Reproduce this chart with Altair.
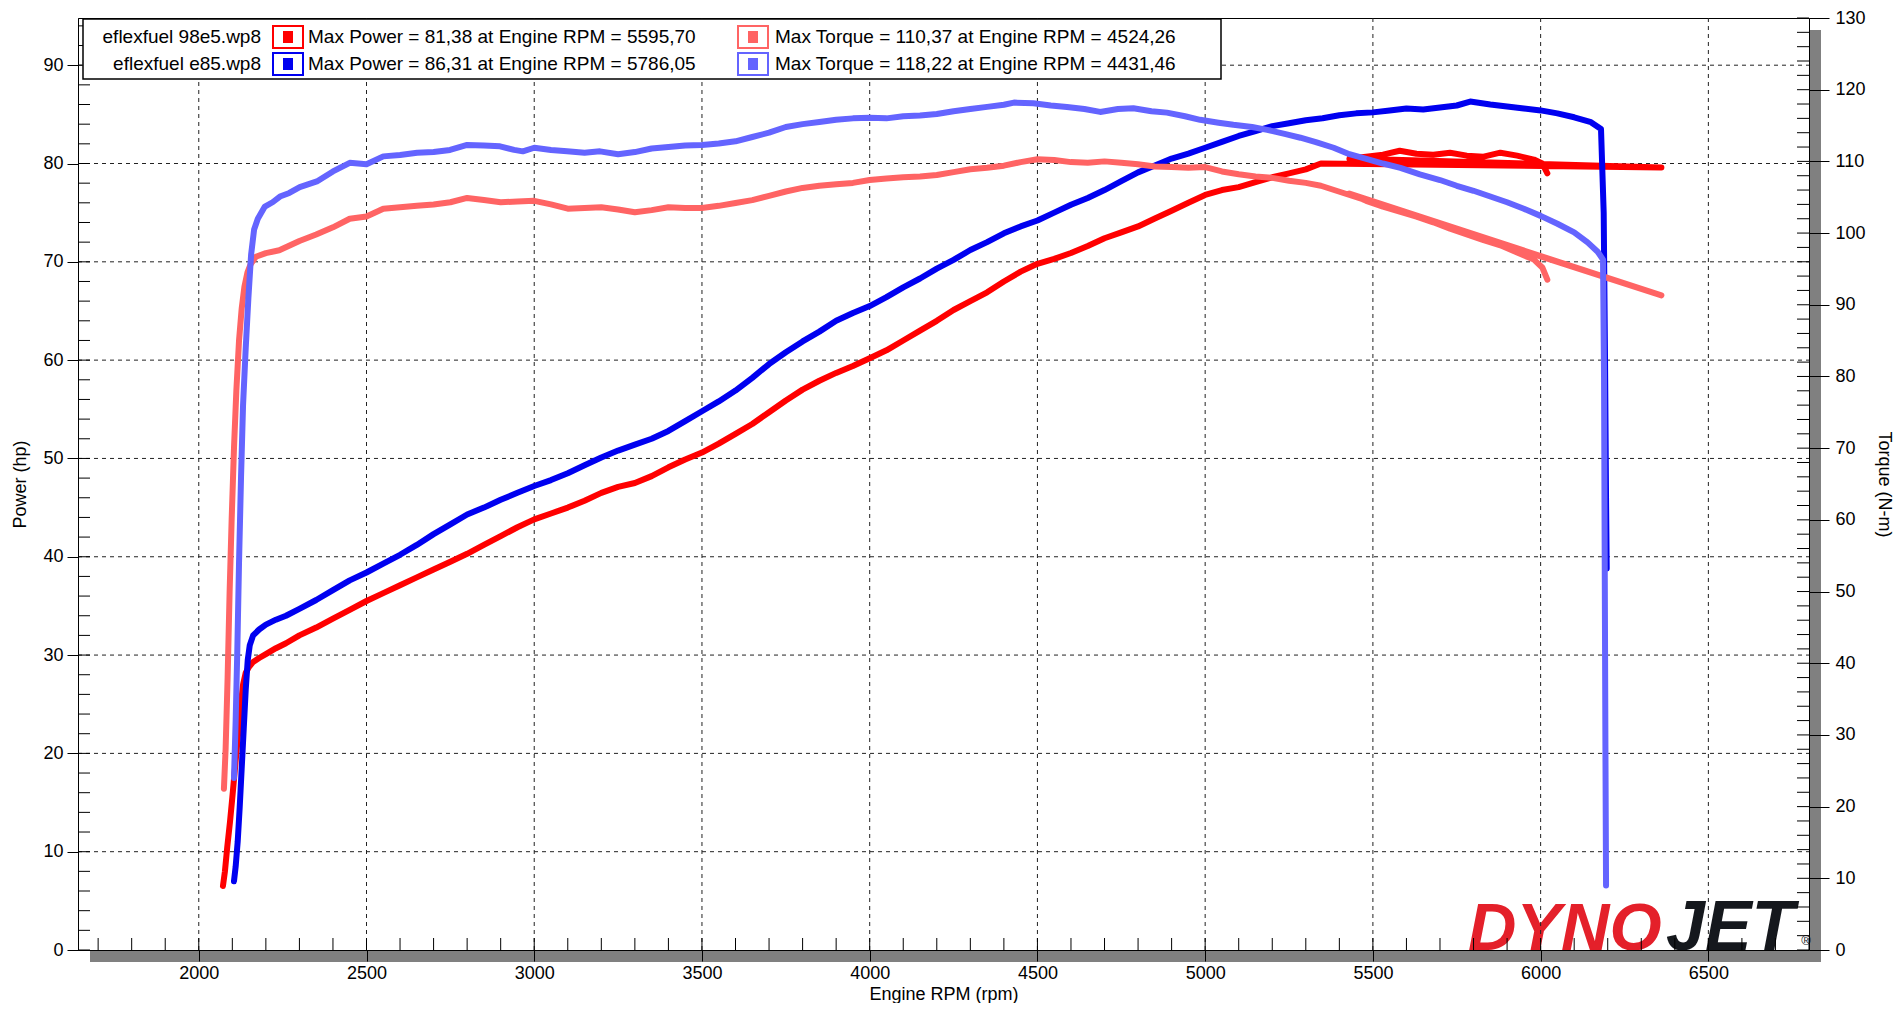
import altair as alt
import pandas as pd

# ---------------- data ----------------
rpm_98e5_power = [2072, 2078, 2085, 2093, 2100, 2108, 2116, 2124, 2132, 2140, 2150, 2162, 2180, 2200, 2230, 2260,
                  2300, 2350, 2400, 2450, 2500, 2550, 2600, 2650, 2700, 2750, 2800, 2850, 2900, 2950, 3000, 3050,
                  3100, 3150, 3200, 3250, 3300, 3350, 3400, 3450, 3500, 3550, 3600, 3650, 3700, 3750, 3800, 3850,
                  3900, 3950, 4000, 4050, 4100, 4150, 4200, 4250, 4300, 4350, 4400, 4450, 4500, 4550, 4600, 4650,
                  4700, 4750, 4800, 4850, 4900, 4950, 5000, 5050, 5100, 5150, 5200, 5250, 5300, 5345, 6360, 5430,
                  5480, 5530, 5580, 5630, 5680, 5730, 5780, 5830, 5880, 5930, 5980, 6005, 6020]
hp_98e5 = [6.5, 8.0, 10.5, 13.0, 15.5, 18.5, 21.5, 24.5, 27.0, 28.2, 28.8, 29.3, 29.7, 30.1, 30.7, 31.2,
           32.0, 32.8, 33.7, 34.6, 35.5, 36.3, 37.1, 37.9, 38.7, 39.5, 40.3, 41.2, 42.1, 43.0, 43.8, 44.4,
           45.0, 45.7, 46.5, 47.1, 47.5, 48.2, 49.1, 49.9, 50.6, 51.5, 52.5, 53.5, 54.7, 55.9, 57.0, 57.9,
           58.7, 59.4, 60.2, 61.0, 62.0, 63.0, 64.0, 65.1, 66.0, 66.9, 68.0, 69.0, 69.8, 70.3, 70.9, 71.6,
           72.4, 73.0, 73.6, 74.4, 75.2, 76.0, 76.8, 77.3, 77.6, 78.1, 78.6, 79.0, 79.4, 80.0, 79.6, 80.5,
           80.7, 80.9, 81.3, 81.0, 80.9, 81.1, 80.8, 80.7, 81.1, 80.8, 80.4, 80.0, 79.0]

rpm_e85_power = [2105, 2110, 2116, 2122, 2128, 2134, 2140, 2146, 2152, 2162, 2180, 2200, 2230, 2260, 2300, 2350,
                 2400, 2450, 2500, 2550, 2600, 2650, 2700, 2750, 2800, 2850, 2900, 2950, 3000, 3050, 3100, 3150,
                 3200, 3250, 3300, 3350, 3400, 3450, 3500, 3550, 3600, 3650, 3700, 3750, 3800, 3850, 3900, 3950,
                 4000, 4050, 4100, 4150, 4200, 4250, 4300, 4350, 4400, 4450, 4500, 4550, 4600, 4650, 4700, 4750,
                 4800, 4850, 4900, 4950, 5000, 5050, 5100, 5150, 5200, 5250, 5300, 5350, 5400, 5450, 5500, 5550,
                 5600, 5650, 5700, 5750, 5790, 5850, 5900, 5950, 6000, 6050, 6100, 6150, 6180, 6188, 6192, 6195,
                 6197]
hp_e85 = [7.0, 8.5, 11.0, 14.5, 18.5, 22.5, 26.5, 29.5, 31.0, 32.0, 32.6, 33.1, 33.6, 34.0, 34.7, 35.6,
          36.6, 37.6, 38.4, 39.3, 40.2, 41.2, 42.3, 43.3, 44.3, 45.0, 45.8, 46.5, 47.2, 47.8, 48.5, 49.3,
          50.1, 50.8, 51.4, 52.0, 52.8, 53.8, 54.8, 55.8, 56.9, 58.2, 59.6, 60.8, 61.9, 62.9, 64.0, 64.8,
          65.5, 66.4, 67.4, 68.3, 69.3, 70.2, 71.2, 72.0, 72.9, 73.6, 74.2, 75.0, 75.8, 76.5, 77.3, 78.2,
          79.1, 79.8, 80.5, 81.0, 81.6, 82.2, 82.8, 83.3, 83.8, 84.1, 84.4, 84.6, 84.9, 85.1, 85.2, 85.4,
          85.6, 85.5, 85.7, 85.9, 86.3, 86.0, 85.8, 85.6, 85.4, 85.1, 84.7, 84.2, 83.5, 75.0, 60.0, 46.0,
          38.8]

rpm_98e5_torque = [2075, 2080, 2086, 2092, 2098, 2105, 2112, 2120, 2128, 2136, 2145, 2155, 2170, 2200, 2240, 2300,
                   2350, 2400, 2450, 2500, 2550, 2600, 2650, 2700, 2750, 2800, 2850, 2900, 2950, 3000, 3050, 3100,
                   3150, 3200, 3250, 3300, 3350, 3400, 3450, 3500, 3550, 3600, 3650, 3700, 3750, 3800, 3850, 3900,
                   3950, 4000, 4050, 4100, 4150, 4200, 4250, 4300, 4350, 4400, 4450, 4500, 4550, 4600, 4650, 4700,
                   4750, 4800, 4850, 4900, 4950, 5000, 5050, 5100, 5150, 5200, 5250, 5300, 5345, 6360, 5430, 5480,
                   5530, 5580, 5630, 5680, 5730, 5780, 5830, 5880, 5930, 5980, 6005, 6020]
nm_98e5 = [22.5, 28, 38, 50, 60, 70, 78, 85, 89.5, 92.5, 94.5, 95.7, 96.7, 97.2, 97.6, 98.9,
           99.8, 100.8, 102.0, 102.3, 103.4, 103.6, 103.8, 104.0, 104.3, 104.9, 104.6, 104.3, 104.4, 104.5, 104.0, 103.4,
           103.5, 103.6, 103.3, 102.9, 103.2, 103.6, 103.5, 103.5, 103.8, 104.2, 104.6, 105.2, 105.8, 106.3, 106.6, 106.8,
           107.0, 107.4, 107.6, 107.8, 107.9, 108.1, 108.5, 108.9, 109.1, 109.4, 109.9, 110.3, 110.2, 109.9, 109.8, 110.0,
           109.8, 109.6, 109.3, 109.2, 109.1, 109.2, 108.6, 108.2, 107.9, 107.7, 107.3, 107.0, 106.6, 91.3, 105.5, 104.5,
           103.7, 103.0, 102.3, 101.5, 100.6, 99.8, 99.0, 98.3, 97.3, 96.3, 95.2, 93.5]

rpm_e85_torque = [2105, 2110, 2115, 2120, 2126, 2132, 2140, 2148, 2156, 2165, 2176, 2197, 2220, 2242, 2270, 2301,
                  2352, 2400, 2450, 2500, 2550, 2600, 2651, 2700, 2749, 2800, 2850, 2898, 2940, 2966, 3000, 3050,
                  3098, 3150, 3196, 3250, 3300, 3350, 3400, 3450, 3500, 3550, 3600, 3650, 3700, 3750, 3800, 3850,
                  3900, 3950, 4000, 4050, 4100, 4150, 4200, 4250, 4300, 4350, 4400, 4430, 4488, 4540, 4588, 4640,
                  4687, 4740, 4786, 4840, 4886, 4940, 4985, 5040, 5084, 5140, 5185, 5240, 5284, 5330, 5383, 5430,
                  5483, 5530, 5582, 5640, 5700, 5750, 5800, 5850, 5900, 5950, 6000, 6050, 6100, 6140, 6170, 6186,
                  6189, 6191, 6193, 6195]
nm_e85 = [24, 32, 42, 54, 66, 76, 84, 91, 97, 100.5, 102, 103.7, 104.3, 105.1, 105.6, 106.4,
          107.2, 108.6, 109.8, 109.6, 110.7, 110.9, 111.2, 111.3, 111.6, 112.3, 112.2, 112.1, 111.6, 111.4, 111.9, 111.6,
          111.4, 111.2, 111.4, 111.0, 111.3, 111.8, 112.0, 112.2, 112.3, 112.5, 112.8, 113.4, 114.0, 114.8, 115.2, 115.5,
          115.8, 116.0, 116.1, 116.0, 116.3, 116.4, 116.6, 117.0, 117.3, 117.6, 117.9, 118.2, 118.1, 117.8, 117.6, 117.3,
          116.9, 117.3, 117.4, 117.0, 116.8, 116.3, 115.8, 115.4, 115.1, 114.8, 114.4, 113.8, 113.3, 112.7, 111.9, 111.0,
          110.3, 109.7, 109.1, 108.2, 107.4, 106.6, 105.9, 105.1, 104.3, 103.4, 102.4, 101.3, 100.1, 98.7, 97.4, 96.3,
          80, 55, 30, 9]

x_major = [2000, 2500, 3000, 3500, 4000, 4500, 5000, 5500, 6000, 6500]
x_minor = list(range(1700, 6801, 100))
power_major = [0, 10, 20, 30, 40, 50, 60, 70, 80, 90]
power_minor = list(range(0, 95, 2))
torque_major = [0, 10, 20, 30, 40, 50, 60, 70, 80, 90, 100, 110, 120, 130]
torque_minor = list(range(0, 131, 2))

legend_files = ["eflexfuel 98e5.wp8", "eflexfuel e85.wp8"]
legend_power = ["Max Power = 81,38 at Engine RPM = 5595,70", "Max Power = 86,31 at Engine RPM = 5786,05"]
legend_torque = ["Max Torque = 110,37 at Engine RPM = 4524,26", "Max Torque = 118,22 at Engine RPM = 4431,46"]
power_colors = ["#FF0000", "#0000F0"]
torque_colors = ["#FF6464", "#6464FF"]
logo_words = ["DYNO", "JET"]
logo_colors = ["#E4202A", "#15181D"]

# ---------------- chart ----------------
W, H = 1731, 932
FONT = "Liberation Sans"
xs = alt.Scale(domain=[1640, 6800], nice=False, zero=False)
ps = alt.Scale(domain=[0, 94.8], nice=False)
ts = alt.Scale(domain=[0, 130], nice=False)
one = pd.DataFrame({"k": [0]})


def box(x, x2, y, y2, **kw):
    return alt.Chart(one).mark_rect(**kw).encode(
        x=alt.value(x), x2=alt.value(x2), y=alt.value(y), y2=alt.value(y2))


def label(text, x, y, **kw):
    return alt.Chart(one).mark_text(**kw).encode(
        x=alt.value(x), y=alt.value(y), text=alt.value(text))


def curve(rpm, val, color, yscale, xaxis=None, yaxis=None):
    df = pd.DataFrame({"rpm": rpm, "v": val, "i": list(range(len(rpm)))})
    return alt.Chart(df).mark_line(color=color, strokeWidth=6, strokeCap="round",
                                   strokeJoin="round").encode(
        x=alt.X("rpm:Q", scale=xs, axis=xaxis),
        y=alt.Y("v:Q", scale=yscale, axis=yaxis),
        order=alt.Order("i:Q"))


units = []
# drop shadow of the plot frame
units += [box(12, W + 12, H, H + 12, color="#808080"),
          box(W, W + 12, 12, H + 12, color="#808080")]

# logo
logo_style = dict(font=FONT, fontWeight="bold", fontStyle="italic", align="left", baseline="alphabetic")
units.append(label(logo_words[0], 1390, H, color=logo_colors[0], fontSize=67, **logo_style))
units.append(label(logo_words[1], 1588, H, color=logo_colors[1], fontSize=70, **logo_style))
units.append(label("®", 1728, H - 9, color="#15181D", font=FONT, fontSize=13,
                   align="center", baseline="middle"))

# grid
grid_style = dict(color="#222222", strokeDash=[4, 4], strokeWidth=1)
units.append(alt.Chart(pd.DataFrame({"rpm": x_major})).mark_rule(**grid_style).encode(
    x=alt.X("rpm:Q", scale=xs, axis=None), y=alt.value(0), y2=alt.value(H)))
units.append(alt.Chart(pd.DataFrame({"hp": power_major[1:]})).mark_rule(**grid_style).encode(
    y=alt.Y("hp:Q", scale=ps, axis=None), x=alt.value(0), x2=alt.value(W)))

x_axis = alt.Axis(orient="bottom", values=x_major, format="d", tickSize=11, labelPadding=3,
                  labelFlush=False, title="Engine RPM (rpm)", titleX=W / 2, titleY=44,
                  titleAlign="center", titleBaseline="middle", grid=False, zindex=1)
p_axis = alt.Axis(orient="left", values=power_major, format="d", tickSize=11, labelPadding=4,
                  title="Power (hp)", titleAngle=270, titleX=-58, titleY=H / 2,
                  titleAlign="center", titleBaseline="middle", grid=False, zindex=1)
t_axis = alt.Axis(orient="right", values=torque_major, format="d", tickSize=20, labelPadding=6,
                  title="Torque (N-m)", titleAngle=90, titleX=74, titleY=H / 2,
                  titleAlign="center", titleBaseline="middle", grid=False, zindex=1)

units.append(curve(rpm_98e5_power, hp_98e5, power_colors[0], ps, xaxis=x_axis, yaxis=p_axis))
units.append(curve(rpm_e85_power, hp_e85, power_colors[1], ps))
units.append(curve(rpm_98e5_torque, nm_98e5, torque_colors[0], ts, yaxis=t_axis))
units.append(curve(rpm_e85_torque, nm_e85, torque_colors[1], ts))

# minor ticks on the inside of the frame
units.append(alt.Chart(pd.DataFrame({"hp": power_minor})).mark_rule(color="black").encode(
    y=alt.Y("hp:Q", scale=ps, axis=None), x=alt.value(0), x2=alt.value(12)))
units.append(alt.Chart(pd.DataFrame({"rpm": x_minor})).mark_rule(color="black").encode(
    x=alt.X("rpm:Q", scale=xs, axis=None), y=alt.value(H - 12), y2=alt.value(H)))
units.append(alt.Chart(pd.DataFrame({"nm": torque_minor})).mark_rule(color="black").encode(
    y=alt.Y("nm:Q", scale=ts, axis=None), x=alt.value(W - 12), x2=alt.value(W)))

# legend
units.append(box(5, 1143, 1, 61, fill="white", stroke="black", strokeWidth=1.5))
row_y = [19, 46]
txt = dict(font=FONT, fontSize=19, color="black", baseline="middle")
for i in range(2):
    y = row_y[i]
    units += [
        label(legend_files[i], 183, y, align="right", **txt),
        box(195, 225, y - 11, y + 11, fill="white", stroke=power_colors[i], strokeWidth=2),
        box(205, 215, y - 6, y + 6, color=power_colors[i]),
        label(legend_power[i], 230, y, align="left", **txt),
        box(660, 690, y - 11, y + 11, fill="white", stroke=torque_colors[i], strokeWidth=2),
        box(670, 680, y - 6, y + 6, color=torque_colors[i]),
        label(legend_torque[i], 697, y, align="left", **txt),
    ]

# every layer has its own scales; all x scales share one explicit domain, all power
# scales another and all torque scales a third, so everything lines up exactly.
chart = alt.layer(*units).resolve_scale(x="independent", y="independent").properties(
    width=W, height=H,
    autosize=alt.AutoSizeParams(type="none"),
    padding={"left": 70, "top": 10, "right": 85, "bottom": 53},
    background="white",
).configure_view(stroke="black", strokeWidth=1).configure_axis(
    labelFont=FONT, labelFontSize=18, labelColor="black",
    titleFont=FONT, titleFontSize=18, titleFontWeight="normal", titleColor="black",
    domainColor="black", tickColor="black")

chart.save("out.html", embed_options={"renderer": "svg", "actions": False})
